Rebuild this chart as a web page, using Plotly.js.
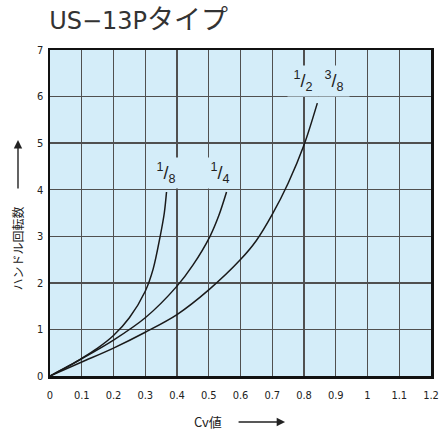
<!DOCTYPE html>
<html><head><meta charset="utf-8">
<script src="https://cdn.plot.ly/plotly-3.0.1.min.js"></script>
<style>body{margin:0;background:#fff}#c{width:439px;height:437px}</style>
</head><body><div id="c"></div>
<script>
const cv_18 = [0, 0.05, 0.1, 0.15, 0.2, 0.25, 0.3, 0.325, 0.347, 0.36, 0.367];
const turns_18 = [0, 0.18, 0.38, 0.6, 0.87, 1.25, 1.82, 2.3, 3.0, 3.5, 3.95];
const cv_14 = [0, 0.1, 0.2, 0.3, 0.4, 0.45, 0.504, 0.532, 0.556];
const turns_14 = [0, 0.37, 0.77, 1.25, 1.93, 2.38, 3.0, 3.45, 3.95];
const cv_12 = [0, 0.1, 0.2, 0.3, 0.4, 0.5, 0.6, 0.65, 0.7, 0.75, 0.8, 0.842];
const turns_12 = [0, 0.3, 0.6, 0.94, 1.32, 1.85, 2.5, 2.91, 3.47, 4.14, 4.96, 5.86];
const xTicks = [0, 0.1, 0.2, 0.3, 0.4, 0.5, 0.6, 0.7, 0.8, 0.9, 1, 1.1, 1.2];
const xTickText = ['0','0.1','0.2','0.3','0.4','0.5','0.6','0.7','0.8','0.9','1','1.1','1.2'];
const yTicks = [0,1,2,3,4,5,6,7];
const labels = [
  {t:'<sup>1</sup>/<sub>8</sub>', x:0.364, y:4.36},
  {t:'<sup>1</sup>/<sub>4</sub>', x:0.535, y:4.36},
  {t:'<sup>1</sup>/<sub>2</sub>', x:0.796, y:6.33},
  {t:'<sup>3</sup>/<sub>8</sub>', x:0.894, y:6.33}
];

const line = {color:'#1a1a1a', width:1.5, shape:'spline', smoothing:0.9};
const traces = [
  {x:cv_18, y:turns_18, mode:'lines', line:line, hoverinfo:'skip'},
  {x:cv_14, y:turns_14, mode:'lines', line:line, hoverinfo:'skip'},
  {x:cv_12, y:turns_12, mode:'lines', line:line, hoverinfo:'skip'}
];
const tickFont = {family:'Liberation Sans Narrow, DejaVu Sans Condensed, sans-serif', size:11, color:'#222'};
const anns = labels.map(l => ({x:l.x, y:l.y, xref:'x', yref:'y', text:l.t, showarrow:false,
  width:30, height:30, yanchor:'middle', valign:'middle',
  font:{family:'Liberation Sans Narrow, Liberation Sans, sans-serif', size:18, color:'#222'}, bgcolor:'#d4edf9', borderpad:0}));
anns.push({xref:'paper', yref:'paper', x:0.415, y:-0.141, text:'Cv値', showarrow:false, xanchor:'center', yanchor:'middle',
  font:{family:'Noto Sans CJK JP, sans-serif', size:13, color:'#222'}});
anns.push({xref:'paper', yref:'paper', x:0.617, y:-0.141, ax:-48, ay:0, text:'', showarrow:true,
  arrowhead:2, arrowsize:1.2, arrowwidth:1.4, arrowcolor:'#222'});
anns.push({xref:'paper', yref:'paper', x:-0.084, y:0.391, text:'ハンドル回転数', showarrow:false, textangle:-90, xanchor:'center', yanchor:'middle',
  font:{family:'Noto Sans CJK JP, sans-serif', size:12, color:'#222'}});
anns.push({xref:'paper', yref:'paper', x:-0.084, y:0.724, ax:0, ay:50, text:'', showarrow:true,
  arrowhead:2, arrowsize:1.2, arrowwidth:1.4, arrowcolor:'#222'});

const layout = {
  width:439, height:437,
  margin:{l:50, r:8, t:50, b:61},
  paper_bgcolor:'#fff', plot_bgcolor:'#d4edf9',
  showlegend:false,
  title:{text:'US−13P<span style="font-size:27px">タイプ</span>', x:0.112, xanchor:'left', y:0.952, yanchor:'middle',
    font:{family:'DejaVu Sans, Noto Sans CJK JP, sans-serif', size:24, color:'#333'}},
  xaxis:{range:[0,1.2], tickvals:xTicks, ticktext:xTickText, showgrid:true, gridcolor:'#505050', gridwidth:1.4,
    zeroline:false, showline:true, linecolor:'#111', linewidth:2.5, mirror:true, ticks:'', ticklabelstandoff:7, tickfont:tickFont, fixedrange:true},
  yaxis:{range:[0,7], tickvals:yTicks, showgrid:true, gridcolor:'#505050', gridwidth:1.4,
    zeroline:false, showline:true, linecolor:'#111', linewidth:2.5, mirror:true, ticks:'', ticklabelstandoff:2, tickfont:tickFont, fixedrange:true},
  annotations:anns
};
Plotly.newPlot('c', traces, layout, {displayModeBar:false, staticPlot:true});
</script></body></html>
